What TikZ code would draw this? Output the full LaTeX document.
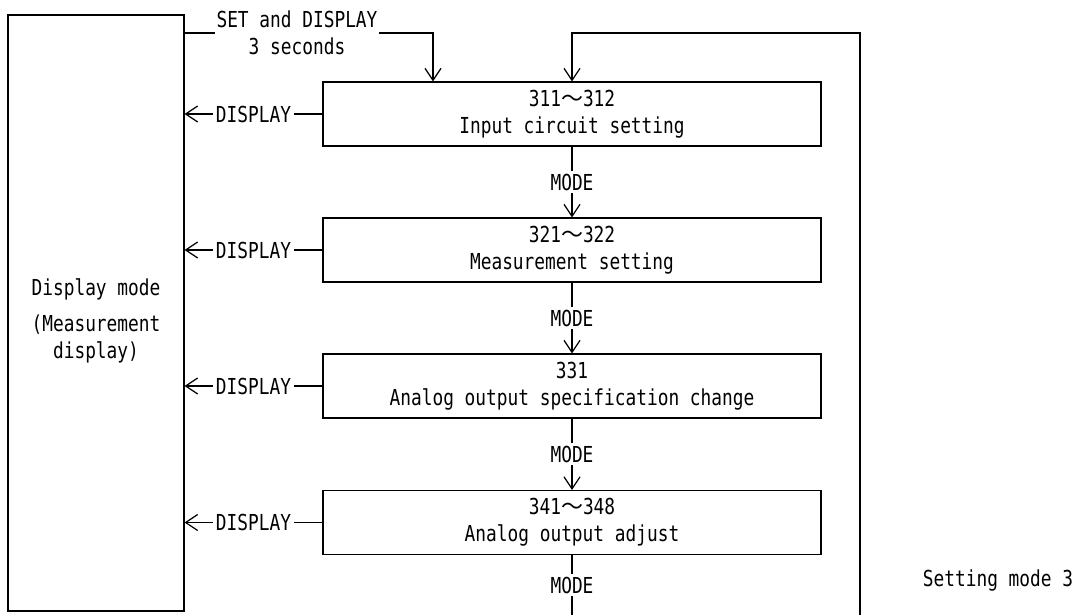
\documentclass[tikz,border=0pt]{standalone}
\usepackage{fontspec}
\setmainfont[FakeStretch=0.81]{DejaVu Sans Mono}
\newfontfamily\cjk{Noto Sans CJK JP}
\usetikzlibrary{arrows.meta}
\tikzset{
  every node/.style={font=\fontsize{16.5pt}{20.25pt}\selectfont},
  stepbox/.style={draw, line width=0.9pt, minimum width=373.5pt, minimum height=48pt, align=center, inner sep=0pt},
  arr/.style={-{Straight Barb[length=9pt,width=12pt]}},
  lbl/.style={fill=white, inner xsep=2.5pt, inner ysep=2pt},
  wire/.style={line width=0.9pt}
}
\begin{document}
\begin{tikzpicture}[x=0.75pt,y=-0.75pt]
\useasboundingbox (0,0) rectangle (1085,615);
% left box
\node[draw, line width=0.9pt, minimum width=132pt, minimum height=447pt, inner sep=0pt] (dm) at (96,313) {};
\node[align=center] (dmtext) at (96,321) {Display mode\\[6.75pt](Measurement\\display)};
% setting boxes
\node[stepbox] (b1) at (572,114) {311{\cjk ～}312\\Input circuit setting};
\node[stepbox] (b2) at (572,250) {321{\cjk ～}322\\Measurement setting};
\node[stepbox] (b3) at (572,386) {331\\Analog output specification change};
\node[stepbox] (b4) at (572,522.5) {341{\cjk ～}348\\Analog output adjust};
% SET and DISPLAY entry
\coordinate (s1) at (433,33);
\node[align=center, fill=white, inner xsep=1pt, inner ysep=0pt] (setlbl) at (297,32.5) {SET and DISPLAY\\3 seconds};
\draw[wire] (dm.east |- s1) -- (setlbl.west |- s1);
\draw[wire,arr] (setlbl.east |- s1) -- (s1) -- (s1 |- b1.north);
% loop back
\coordinate (lb) at (860,615);
\coordinate (lt) at (860,33);
\draw[wire,arr] (lb) -- (lt) -- (b1.north |- lt) -- (b1.north);
% MODE connectors
\draw[wire,arr] (b1.south) -- node[lbl]{MODE} (b2.north);
\draw[wire,arr] (b2.south) -- node[lbl]{MODE} (b3.north);
\draw[wire,arr] (b3.south) -- node[lbl]{MODE} (b4.north);
\coordinate (mb) at (572,615);
\draw[wire] (b4.south) -- node[lbl]{MODE} (mb);
% DISPLAY connectors
\draw[wire,arr] (b1.west) -- node[lbl]{DISPLAY} (b1.west -| dm.east);
\draw[wire,arr] (b2.west) -- node[lbl]{DISPLAY} (b2.west -| dm.east);
\draw[wire,arr] (b3.west) -- node[lbl]{DISPLAY} (b3.west -| dm.east);
\draw[wire,arr] (b4.west) -- node[lbl]{DISPLAY} (b4.west -| dm.east);
% caption
\node (cap) at (998,580) {Setting mode 3};
\end{tikzpicture}
\end{document}
